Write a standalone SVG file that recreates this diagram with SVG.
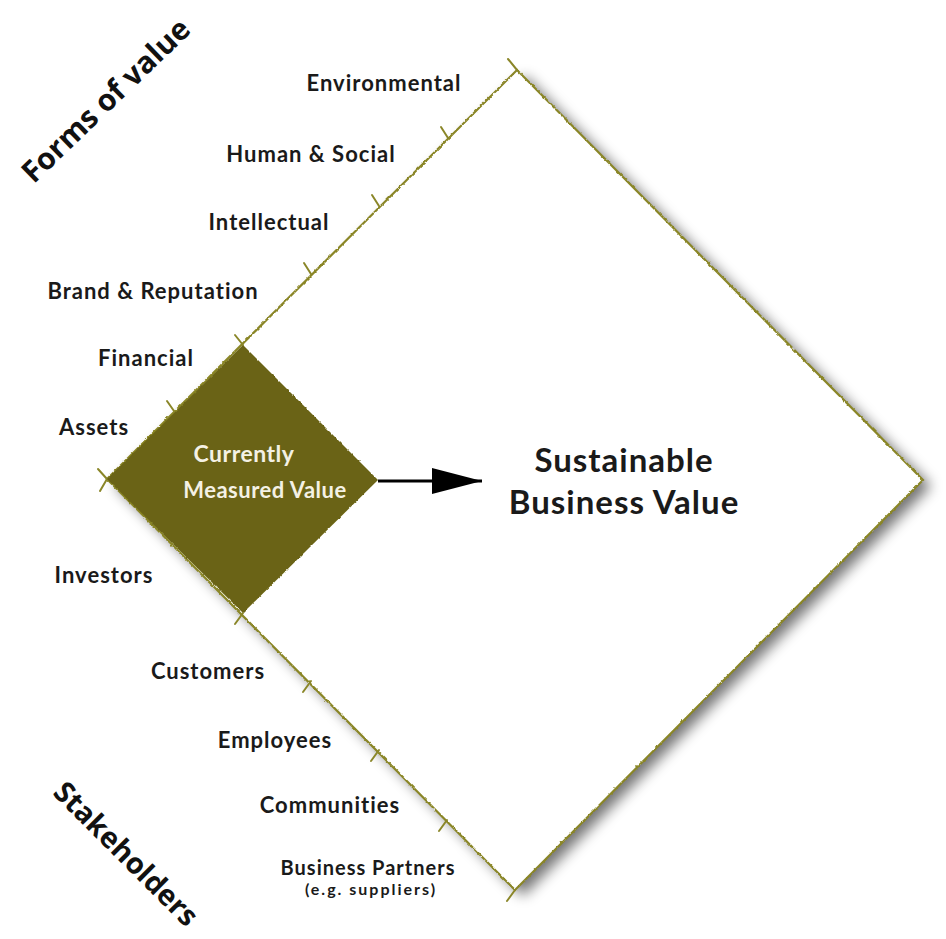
<svg xmlns="http://www.w3.org/2000/svg" width="946" height="939" viewBox="0 0 946 939">
<defs>
<style>
.lbl{font-family:Lato,"Open Sans","Liberation Sans",sans-serif;font-weight:bold;font-size:22px;letter-spacing:1px;fill:#1a1a1a;text-anchor:middle}
.title{font-family:"Open Sans","Liberation Sans",sans-serif;font-weight:bold;font-size:30px;fill:#111;text-anchor:middle}
.edge{fill:none;stroke:#8a8628;stroke-width:2.2;stroke-linecap:round}
.tick{stroke:#8a8628;stroke-width:2;stroke-linecap:round}
</style>
<filter id="shadow" x="-10%" y="-10%" width="130%" height="130%">
<feGaussianBlur in="SourceAlpha" stdDeviation="7"/>
<feOffset dx="8" dy="6" result="b"/>
<feComponentTransfer><feFuncA type="linear" slope="0.55"/></feComponentTransfer>
<feMerge><feMergeNode/><feMergeNode in="SourceGraphic"/></feMerge>
</filter>
<filter id="rough" x="-5%" y="-5%" width="110%" height="110%">
<feTurbulence type="fractalNoise" baseFrequency="0.25" numOctaves="2" seed="3"/>
<feDisplacementMap in="SourceGraphic" scale="2.5" xChannelSelector="R" yChannelSelector="G"/>
</filter>
<marker id="arrow" viewBox="0 0 50 26" refX="50" refY="13" markerWidth="50" markerHeight="26" markerUnits="userSpaceOnUse" orient="auto">
<path d="M0,0 L50,13 L0,26 Z" fill="#000"/>
</marker>
</defs>
<rect width="946" height="939" fill="#fff"/>

<g id="sustainable-value">
<polygon points="107,479 517,70 923,480 515,890" fill="#fff" filter="url(#shadow)"/>
<polygon class="edge" points="107,479 517,70 923,480 515,890" filter="url(#rough)"/>
<text class="lbl" x="624" y="472" style="font-size:33px">Sustainable</text>
<text class="lbl" x="624" y="514" style="font-size:33px">Business Value</text>
</g>

<g id="ticks">
<line class="tick" x1="517" y1="70" x2="508" y2="59"/>
<line class="tick" x1="448" y1="138" x2="441" y2="127"/>
<line class="tick" x1="379" y1="206" x2="372" y2="195"/>
<line class="tick" x1="311" y1="274" x2="304" y2="263"/>
<line class="tick" x1="243" y1="345" x2="235" y2="335"/>
<line class="tick" x1="174" y1="411" x2="167" y2="401"/>
<line class="tick" x1="107" y1="479" x2="98" y2="469"/>
<line class="tick" x1="107" y1="479" x2="100" y2="491"/>
<line class="tick" x1="243" y1="613" x2="235" y2="624"/>
<line class="tick" x1="311" y1="681" x2="303" y2="692"/>
<line class="tick" x1="379" y1="750" x2="371" y2="761"/>
<line class="tick" x1="447" y1="820" x2="439" y2="831"/>
<line class="tick" x1="515" y1="890" x2="507" y2="901"/>
</g>

<g id="measured-value">
<polygon points="107,479 243,345 378,480 243,613" fill="#6b6414" filter="url(#rough)"/>
<text class="lbl" x="244" y="462" style="fill:#f4f1e4;font-size:23px;letter-spacing:0.5px">Currently</text>
<text class="lbl" x="265" y="498" style="fill:#f4f1e4;font-size:22px;letter-spacing:0.5px">Measured Value</text>
</g>

<g id="connectors">
<line x1="378" y1="481" x2="482" y2="481" stroke="#000" stroke-width="3" marker-end="url(#arrow)"/>
</g>

<g id="forms-of-value">
<text class="title" transform="translate(113,108) rotate(-44)">Forms of value</text>
<text class="lbl" x="384" y="91">Environmental</text>
<text class="lbl" x="311" y="162">Human &amp; Social</text>
<text class="lbl" x="269" y="230">Intellectual</text>
<text class="lbl" x="153" y="299">Brand &amp; Reputation</text>
<text class="lbl" x="146" y="366">Financial</text>
<text class="lbl" x="94" y="435">Assets</text>
</g>

<g id="stakeholders">
<text class="title" transform="translate(119,861) rotate(45)" style="font-size:29px">Stakeholders</text>
<text class="lbl" x="104" y="583">Investors</text>
<text class="lbl" x="208" y="679">Customers</text>
<text class="lbl" x="275" y="748">Employees</text>
<text class="lbl" x="330" y="813">Communities</text>
<text class="lbl" x="368" y="875" style="font-size:20px">Business Partners</text>
<text class="lbl" x="371" y="895" style="font-size:16px;letter-spacing:2px">(e.g. suppliers)</text>
</g>
</svg>
